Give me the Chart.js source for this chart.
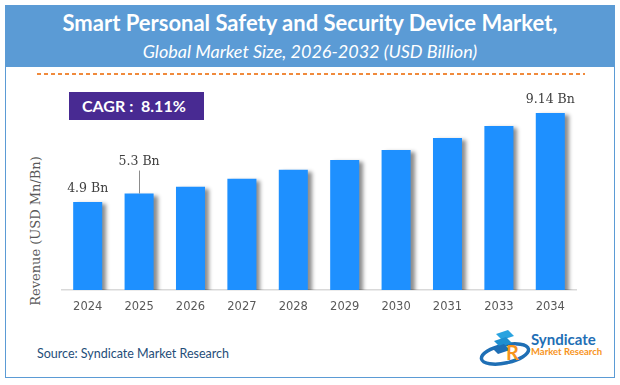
<!DOCTYPE html>
<html>
<head>
<meta charset="utf-8">
<script src="https://cdn.jsdelivr.net/npm/chart.js@4.4.1/dist/chart.umd.min.js"></script>
<style>
  html, body { margin: 0; padding: 0; background: #fff; }
  #page { position: relative; width: 620px; height: 385px; overflow: hidden; font-family: Lato, "Open Sans", sans-serif; }
  #frame { position: absolute; left: 5px; top: 5px; width: 608px; height: 371px; border: 1.5px solid #5b9bd5; }
  #header { position: absolute; left: 5px; top: 5px; width: 610px; height: 62px; background: #5b9bd5; color: #fff; text-align: center; }
  #title { position: absolute; left: 0; right: 0; top: 4px; font-weight: 700; font-size: 22px; }
  #subtitle { position: absolute; left: 0; right: 0; top: 35px; font-style: italic; font-size: 18px; }
  #dash { position: absolute; left: 37px; top: 73px; width: 548px; height: 1.5px;
          background: repeating-linear-gradient(to right, #f08a3c 0 4px, transparent 4px 7px); }
  #cagr { position: absolute; left: 69px; top: 92px; width: 135px; height: 28px; background: #482a92; color: #fff;
          font-weight: 700; font-size: 16px; line-height: 28px; box-sizing: border-box; padding-left: 13px; }
  #ytitle { position: absolute; left: 35px; top: 231px; transform: translate(-50%, -50%) rotate(-90deg);
            font-family: "DejaVu Serif", serif; font-size: 13px; color: #595959; white-space: nowrap; }
  #source { position: absolute; left: 37px; top: 346px; font-size: 12.5px; color: #1f4e79; }
  #logo { position: absolute; left: 478px; top: 328px; }
  canvas { position: absolute; left: 0; top: 0; }
</style>
</head>
<body>
<div id="page">
  <div id="frame"></div>
  <div id="header">
    <div id="title">Smart Personal Safety and Security Device Market,</div>
    <div id="subtitle">Global Market Size, 2026-2032 (USD Billion)</div>
  </div>
  <div id="dash"></div>
  <div id="cagr">CAGR :&nbsp; 8.11%</div>
  <div id="ytitle">Revenue (USD Mn/Bn)</div>
  <div id="source">Source: Syndicate Market Research</div>
  <svg id="logo" width="130" height="46" viewBox="0 0 130 46">
    <ellipse cx="27" cy="26" rx="24" ry="9" fill="none" stroke="#1f6fb5" stroke-width="3.5" transform="rotate(-12 27 26)"/>
    <path d="M18 6 L30 2 L36 8 L24 12 Z" fill="#2aa3e0"/>
    <path d="M16 13 L28 9 L34 15 L22 19 Z" fill="#1f8fd0"/>
    <path d="M14 20 L26 16 L32 22 L20 26 Z" fill="#1f6fb5"/>
    <text x="28" y="32" font-family="Lato, sans-serif" font-weight="700" font-size="20" fill="#f7941d">R</text>
    <text x="53" y="17" font-family="Lato, sans-serif" font-weight="700" font-size="15" fill="#1f6fb5">Syndicate</text>
    <text x="53" y="27" font-family="Lato, sans-serif" font-weight="700" font-size="9.5" fill="#f7941d">Market Research</text>
  </svg>
  <canvas id="chart" width="620" height="385"></canvas>
</div>
<script>
// values
const years = ['2024', '2025', '2026', '2027', '2028', '2029', '2030', '2031', '2033', '2034'];
const revenue = [4.9, 5.3, 5.62, 6.0, 6.43, 6.9, 7.38, 7.95, 8.52, 9.14];
const valueLabels = ['4.9 Bn', '5.3 Bn', '', '', '', '', '', '', '', '9.14 Bn'];

// bar shadow on the right side
const barShadow = {
    id: 'barShadow',
    beforeDatasetDraw(chart) {
        const ctx = chart.ctx;
        ctx.save();
        ctx.shadowColor = 'rgba(0, 0, 0, 0.45)';
        ctx.shadowBlur = 4;
        ctx.shadowOffsetX = 4;
        ctx.shadowOffsetY = 2;
    },
    afterDatasetDraw(chart) {
        chart.ctx.restore();
    }
};

// value labels, the 2025 one lifted with a leader line
const barLabels = {
    id: 'barLabels',
    afterDatasetsDraw(chart) {
        const ctx = chart.ctx;
        const bars = chart.getDatasetMeta(0).data;
        ctx.save();
        ctx.font = '12.5px "DejaVu Serif", serif';
        ctx.fillStyle = '#404040';
        ctx.textAlign = 'center';
        ctx.textBaseline = 'middle';
        bars.forEach((bar, i) => {
            const text = valueLabels[i];
            if (!text) return;
            if (i === 1) {
                ctx.strokeStyle = '#8c8c8c';
                ctx.lineWidth = 1;
                ctx.beginPath();
                ctx.moveTo(Math.round(bar.x) + 0.5, bar.y);
                ctx.lineTo(Math.round(bar.x) + 0.5, bar.y - 23);
                ctx.stroke();
                ctx.fillText(text, bar.x, bar.y - 32);
            } else {
                ctx.fillText(text, bar.x, bar.y - 13);
            }
        });
        ctx.restore();
    }
};

new Chart(document.getElementById('chart'), {
    type: 'bar',
    data: {
        labels: years,
        datasets: [{
            data: revenue,
            backgroundColor: '#1e90ff',
            barPercentage: 0.565,
            categoryPercentage: 1
        }]
    },
    options: {
        responsive: false,
        animation: false,
        layout: { padding: { left: 62, right: 44, top: 95, bottom: 55 } },
        plugins: { legend: { display: false }, tooltip: { enabled: false } },
        scales: {
            x: {
                grid: { display: false, drawTicks: false },
                border: { display: true, color: '#d9d9d9', width: 1.5 },
                ticks: { color: '#595959', padding: 10, font: { family: '"DejaVu Sans", sans-serif', size: 11.5 } },
                afterFit(scale) { scale.height = 40; }
            },
            y: {
                display: false,
                min: 0.7,
                max: 10
            }
        }
    },
    plugins: [barShadow, barLabels]
});
</script>
</body>
</html>
